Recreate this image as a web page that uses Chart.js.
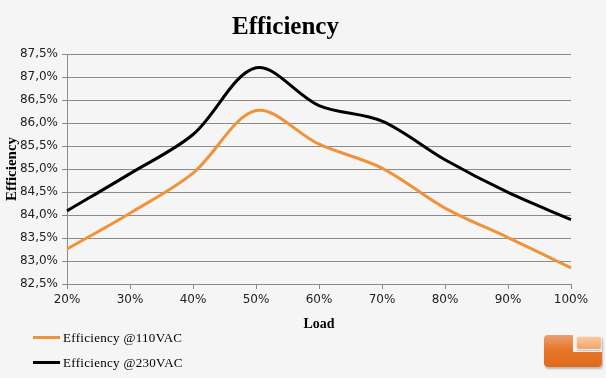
<!DOCTYPE html>
<html>
<head>
<meta charset="utf-8">
<script src="https://cdn.jsdelivr.net/npm/chart.js@4.4.0/dist/chart.umd.min.js"></script>
<style>
  html, body { margin: 0; padding: 0; background: #f5f5f5; }
  #wrap { position: relative; width: 606px; height: 378px; overflow: hidden; background: #f5f5f5; }
  #legend { position: absolute; left: 33px; top: 325px; font-family: 'Liberation Serif', serif; font-size: 13px; letter-spacing: 0.3px; color: #000; }
  .item { display: flex; align-items: center; height: 25px; }
  .swatch { width: 27px; height: 3px; margin-right: 3px; }
  /* site badge, bottom right */
  #logo { position: absolute; left: 544px; top: 335px; width: 58px; height: 32px; }
  #logo .base { position: absolute; inset: 0; border-radius: 4px; background: linear-gradient(#e9a070, #e8772a 45%, #e06a1c); box-shadow: 1px 2px 2px rgba(0,0,0,0.25); }
  #logo .notch { position: absolute; left: 29px; top: 0; width: 29px; height: 17px; background: #f5f5f5; }
  #logo .tab { position: absolute; left: 32px; top: 1px; width: 26px; height: 14px; border-radius: 3px; border: 1px solid #fbe7d6; box-sizing: border-box; background: linear-gradient(#f8c9a0, #f0a66a); box-shadow: 0 1px 1px rgba(0,0,0,0.2); }
</style>
</head>
<body>
<div id="wrap">
  <canvas id="effChart" width="606" height="378"></canvas>
  <div id="legend"></div>
  <div id="logo"><div class="base"></div><div class="notch"></div><div class="tab"></div></div>
</div>
<script>
const LOADS = ['20%', '30%', '40%', '50%', '60%', '70%', '80%', '90%', '100%'];
const EFF_110 = [83.26, 84.04, 84.91, 86.27, 85.54, 85.02, 84.15, 83.51, 82.85];
const EFF_230 = [84.09, 84.90, 85.75, 87.20, 86.38, 86.04, 85.20, 84.49, 83.90];
const SERIES_NAMES = ['Efficiency @110VAC', 'Efficiency @230VAC'];
const SERIES_COLORS = ['#f0923a', '#000000'];
const Y_MIN = 82.5, Y_MAX = 87.5, Y_STEP = 0.5;

const GRID = '#8a8a8a';
const TICK_FONT = { family: 'DejaVu Sans', size: 12 };
const SERIF_BOLD = (size) => ({ family: 'Liberation Serif', size, weight: 'bold' });

function makeSet(label, data, color) {
  return {
    label, data,
    borderColor: color,
    backgroundColor: color,
    borderWidth: 3,
    pointRadius: 0,
    tension: 0.33,
    fill: false,
  };
}

new Chart(document.getElementById('effChart'), {
  type: 'line',
  data: {
    labels: LOADS,
    datasets: [
      makeSet(SERIES_NAMES[0], EFF_110, SERIES_COLORS[0]),
      makeSet(SERIES_NAMES[1], EFF_230, SERIES_COLORS[1]),
    ],
  },
  options: {
    responsive: false,
    animation: false,
    layout: { padding: { left: 0, right: 35, top: 0, bottom: 0 } },
    plugins: {
      legend: { display: false },
      tooltip: { enabled: false },
      title: {
        display: true,
        text: 'Efficiency',
        color: '#000',
        font: SERIF_BOLD(25),
        padding: { top: 13, bottom: 11 },
      },
    },
    scales: {
      x: {
        afterFit: (s) => { s.height = 94; },
        grid: { drawOnChartArea: false, drawTicks: true, tickLength: 5, color: GRID },
        border: { display: true, color: GRID },
        ticks: { color: '#222', font: TICK_FONT, padding: 4, maxRotation: 0 },
        title: { display: true, text: 'Load', color: '#000', font: SERIF_BOLD(14), padding: { top: 0, bottom: 45 } },
      },
      y: {
        min: Y_MIN, max: Y_MAX,
        afterFit: (s) => { s.width = 67; },
        grid: { drawOnChartArea: true, drawTicks: true, tickLength: 5, color: GRID },
        border: { display: true, color: GRID },
        ticks: {
          stepSize: Y_STEP,
          color: '#222',
          font: TICK_FONT,
          padding: 4,
          callback: (v) => v.toFixed(1).replace('.', ',') + '%',
        },
        title: { display: true, text: 'Efficiency', color: '#000', font: SERIF_BOLD(15), padding: { top: 3, bottom: 4 } },
      },
    },
  },
});

// legend, stacked in the bottom left like the original
const legend = document.getElementById('legend');
SERIES_NAMES.forEach((name, i) => {
  const row = document.createElement('div');
  row.className = 'item';
  row.innerHTML = `<span class="swatch" style="background:${SERIES_COLORS[i]}"></span><span>${name}</span>`;
  legend.appendChild(row);
});
</script>
</body>
</html>
